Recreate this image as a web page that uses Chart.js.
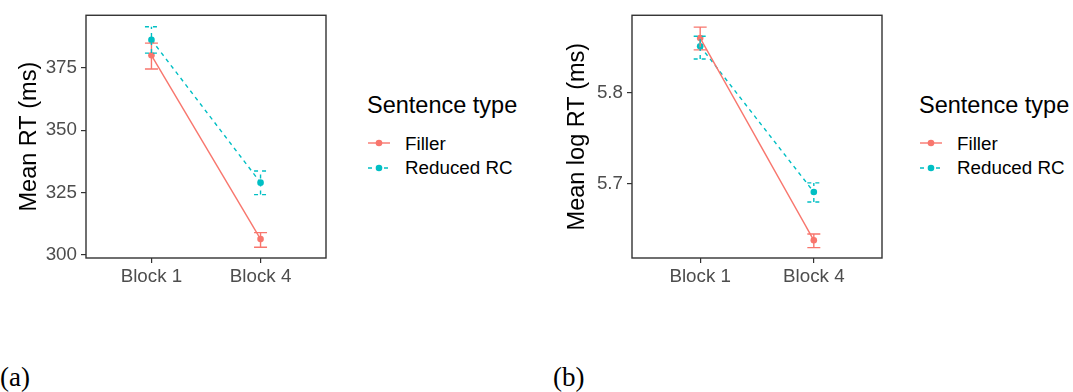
<!DOCTYPE html>
<html>
<head>
<meta charset="utf-8">
<script src="https://cdn.jsdelivr.net/npm/chart.js@4"></script>
<style>
  body { margin: 0; background: #fff; width: 1073px; height: 392px; position: relative; overflow: hidden; font-family: "Liberation Sans", Arial, sans-serif; }
  canvas { position: absolute; top: 0; }
  .lg-title { position: absolute; font-size: 23.5px; line-height: 1; color: #000; white-space: nowrap; }
  .lg-item { position: absolute; font-size: 18.8px; line-height: 1; color: #000; white-space: nowrap; }
  .lg-key { position: absolute; }
  .cap { position: absolute; font-family: "Liberation Serif", "DejaVu Serif", serif; font-size: 27px; line-height: 1; color: #000; }
</style>
</head>
<body>
<canvas id="rtChart" width="340" height="300" style="left:0px"></canvas>
<canvas id="logChart" width="350" height="300" style="left:546px"></canvas>

<div class="lg-title" style="left:367px; top:94px">Sentence type</div>
<svg class="lg-key" style="left:367px; top:137px" width="24" height="12"><line x1="1" y1="6" x2="23" y2="6" stroke="#F8766D" stroke-width="1.4"/><circle cx="12" cy="6" r="3.3" fill="#F8766D"/></svg>
<svg class="lg-key" style="left:367px; top:162px" width="24" height="12"><line x1="1" y1="6" x2="23" y2="6" stroke="#00BFC4" stroke-width="1.4" stroke-dasharray="4 4"/><circle cx="12" cy="6" r="3.3" fill="#00BFC4"/></svg>
<div class="lg-item" style="left:405px; top:135px">Filler</div>
<div class="lg-item" style="left:405px; top:159px">Reduced RC</div>

<div class="lg-title" style="left:919px; top:94px">Sentence type</div>
<svg class="lg-key" style="left:919px; top:137px" width="24" height="12"><line x1="1" y1="6" x2="23" y2="6" stroke="#F8766D" stroke-width="1.4"/><circle cx="12" cy="6" r="3.3" fill="#F8766D"/></svg>
<svg class="lg-key" style="left:919px; top:162px" width="24" height="12"><line x1="1" y1="6" x2="23" y2="6" stroke="#00BFC4" stroke-width="1.4" stroke-dasharray="4 4"/><circle cx="12" cy="6" r="3.3" fill="#00BFC4"/></svg>
<div class="lg-item" style="left:957px; top:135px">Filler</div>
<div class="lg-item" style="left:957px; top:159px">Reduced RC</div>

<div class="cap" style="left:0px; top:364px">(a)</div>
<div class="cap" style="left:553px; top:364px">(b)</div>

<script>
// blocks on the x axis
const blocks = ['Block 1', 'Block 4'];

// (a) mean RT in ms, with error bar limits
const fillerRT = [380.1, 306.2];
const fillerRTLo = [374.6, 302.9];
const fillerRTHi = [385.0, 308.8];
const reducedRT = [386.3, 328.9];
const reducedRTLo = [381.0, 324.1];
const reducedRTHi = [391.6, 333.6];
const rtTicks = [300, 325, 350, 375];

// (b) mean log RT, with error bar limits
const fillerLog = [5.860, 5.638];
const fillerLogLo = [5.847, 5.630];
const fillerLogHi = [5.872, 5.645];
const reducedLog = [5.851, 5.691];
const reducedLogLo = [5.837, 5.680];
const reducedLogHi = [5.862, 5.701];
const logTicks = [5.7, 5.8];

Chart.defaults.font.family = '"Liberation Sans", Arial, sans-serif';

// error bars drawn with the chart scales
const errorBars = {
    id: 'errorBars',
    afterDatasetsDraw(chart) {
        let ctx = chart.ctx;
        let xs = chart.scales.x, ys = chart.scales.y;
        chart.data.datasets.forEach(ds => {
            ctx.save();
            ctx.strokeStyle = ds.borderColor;
            ctx.lineWidth = 1.4;
            ctx.setLineDash(ds.borderDash || []);
            ds.data.forEach(p => {
                let x = xs.getPixelForValue(p.x);
                let lo = ys.getPixelForValue(p.lo);
                let hi = ys.getPixelForValue(p.hi);
                ctx.beginPath();
                ctx.moveTo(x, lo); ctx.lineTo(x, hi);
                ctx.moveTo(x - 6.5, lo); ctx.lineTo(x + 6.5, lo);
                ctx.moveTo(x - 6.5, hi); ctx.lineTo(x + 6.5, hi);
                ctx.stroke();
            });
            ctx.restore();
        });
    }
};

// panel border
const panelBorder = {
    id: 'panelBorder',
    afterDraw(chart) {
        let a = chart.chartArea, ctx = chart.ctx;
        ctx.save();
        ctx.strokeStyle = '#333333';
        ctx.lineWidth = 1.4;
        ctx.strokeRect(a.left, a.top, a.right - a.left, a.bottom - a.top);
        ctx.restore();
    }
};

function points(mean, lo, hi) {
    return mean.map((m, i) => ({ x: i + 1, y: m, lo: lo[i], hi: hi[i] }));
}

function makeChart(id, title, filler, reduced, yMin, yMax, yTicks, fmt, rightPad, titlePad) {
    let ctx = document.getElementById(id).getContext('2d');
    return new Chart(ctx, {
        type: 'line',
        data: {
            datasets: [
                {
                    label: 'Filler',
                    data: filler,
                    borderColor: '#F8766D',
                    backgroundColor: '#F8766D',
                    borderWidth: 1.4,
                    pointRadius: 3.3,
                    pointBorderWidth: 0,
                    fill: false
                },
                {
                    label: 'Reduced RC',
                    data: reduced,
                    borderColor: '#00BFC4',
                    backgroundColor: '#00BFC4',
                    borderWidth: 1.4,
                    borderDash: [4, 4],
                    pointRadius: 3.3,
                    pointBorderWidth: 0,
                    fill: false
                }
            ]
        },
        options: {
            responsive: false,
            animation: false,
            devicePixelRatio: 1,
            layout: { padding: { top: 15, right: rightPad, left: 0, bottom: 0 } },
            plugins: { legend: { display: false }, tooltip: { enabled: false } },
            scales: {
                x: {
                    type: 'linear',
                    min: 0.4,
                    max: 2.6,
                    afterBuildTicks: axis => { axis.ticks = blocks.map((b, i) => ({ value: i + 1 })); },
                    afterFit: axis => { axis.height = 42; },
                    ticks: {
                        callback: v => blocks[v - 1],
                        color: '#4D4D4D',
                        font: { size: 18.8 },
                        padding: 3,
                        autoSkip: false,
                        maxRotation: 0
                    },
                    grid: { drawOnChartArea: false, drawTicks: true, tickLength: 5, color: '#333333', lineWidth: 1.2 },
                    border: { display: false }
                },
                y: {
                    min: yMin,
                    max: yMax,
                    afterBuildTicks: axis => { axis.ticks = yTicks.map(v => ({ value: v })); },
                    afterFit: axis => { axis.width = 86; },
                    ticks: {
                        callback: fmt,
                        color: '#4D4D4D',
                        font: { size: 18.8 },
                        padding: 4
                    },
                    grid: { drawOnChartArea: false, drawTicks: true, tickLength: 5, color: '#333333', lineWidth: 1.2 },
                    border: { display: false },
                    title: { display: true, text: title, color: '#000', font: { size: 23.5 }, padding: { top: titlePad, bottom: 0 } }
                }
            }
        },
        plugins: [errorBars, panelBorder]
    });
}

makeChart('rtChart', 'Mean RT (ms)',
    points(fillerRT, fillerRTLo, fillerRTHi),
    points(reducedRT, reducedRTLo, reducedRTHi),
    298.6, 396.2, rtTicks, v => String(v), 14, 15);

makeChart('logChart', 'Mean log RT (ms)',
    points(fillerLog, fillerLogLo, fillerLogHi),
    points(reducedLog, reducedLogLo, reducedLogHi),
    5.6186, 5.885, logTicks, v => v.toFixed(1), 14, 17);
</script>
</body>
</html>
